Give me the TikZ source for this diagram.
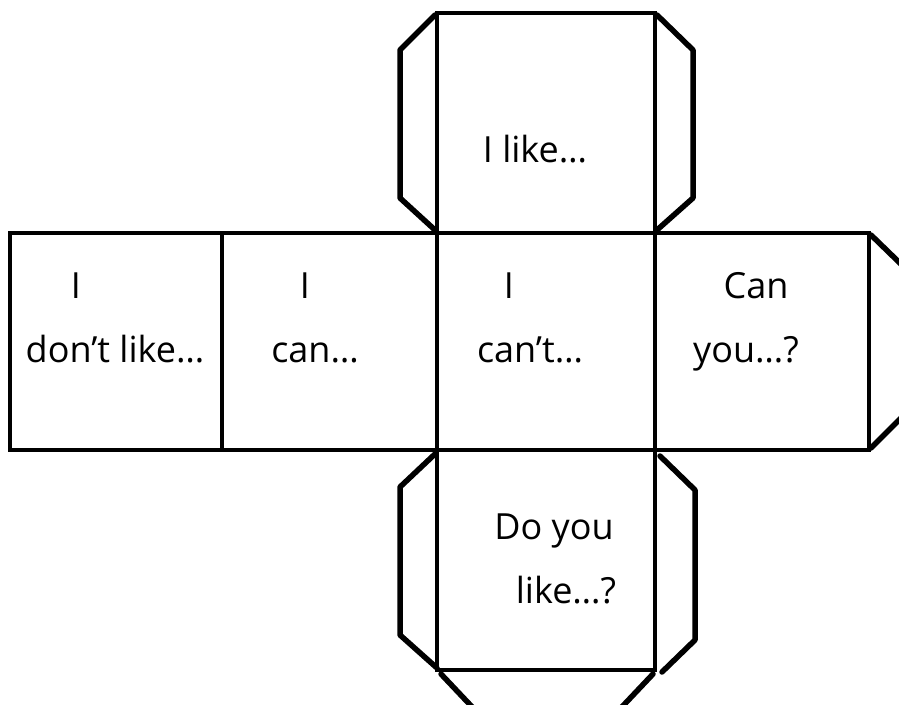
\documentclass[tikz,border=0pt]{standalone}
\usepackage{fontspec}
\setmainfont{Open Sans}
\begin{document}
\begin{tikzpicture}[x=1pt,y=-1pt,
  face/.style={draw=black,line width=4.5pt,line join=miter},
  tab/.style={draw=black,line width=5.5pt,line join=round,line cap=round},
  lbl/.style={anchor=base,inner sep=0pt,font=\fontsize{36}{40}\selectfont}]
\useasboundingbox (0,0) rectangle (899,704);
\begin{scope}
\clip (0,0) rectangle (899,704);
% faces
\draw[face] (437,13) rectangle (655,233);
\draw[face] (10,233) rectangle (222,450);
\draw[face] (222,233) rectangle (437,450);
\draw[face] (437,233) rectangle (655,450);
\draw[face] (655,233) rectangle (869,450);
\draw[face] (437,450) rectangle (655,670);
% tabs
\draw[tab] (435,15) -- (400,50) -- (400,198) -- (435,230);
\draw[tab] (657,15) -- (693,50) -- (693,198) -- (657,230);
\draw[tab] (435,454) -- (400,487) -- (400,635) -- (437,668);
\draw[tab] (660,456) -- (695,490) -- (695,640) -- (662,672);
\draw[tab] (441,674) -- (475,710);
\draw[tab] (653,674) -- (619,710);
\draw[tab] (871,235) -- (905,268);
\draw[tab] (871,448) -- (905,414);
\end{scope}
% labels
\node[lbl] (t1) at (535,162) {I like…};
\node[lbl] (l1) at (76,298) {I};
\node[lbl] (l2) at (115,362) {don’t like…};
\node[lbl] (c1) at (305,298) {I};
\node[lbl] (c2) at (315,362) {can…};
\node[lbl] (m1) at (509,298) {I};
\node[lbl] (m2) at (530,362) {can’t…};
\node[lbl] (r1) at (756,298) {Can};
\node[lbl] (r2) at (746,362) {you…?};
\node[lbl] (b1) at (554,539) {Do you};
\node[lbl] (b2) at (566,603) {like…?};
\end{tikzpicture}
\end{document}
